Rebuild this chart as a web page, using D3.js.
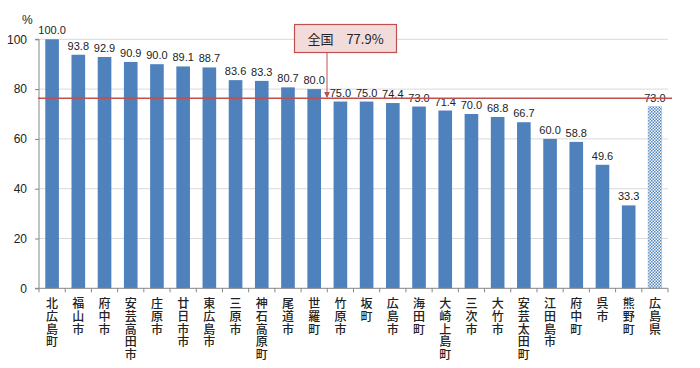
<!DOCTYPE html>
<html><head><meta charset="utf-8">
<script src="https://cdn.jsdelivr.net/npm/d3@7"></script>
<style>body{margin:0;background:#fff}svg{display:block}</style>
</head><body><svg id="c" width="700" height="368"></svg>
<script>
const categories = ["北広島町","福山市","府中市","安芸高田市","庄原市","廿日市市","東広島市","三原市","神石高原町","尾道市","世羅町","竹原市","坂町","広島市","海田町","大崎上島町","三次市","大竹市","安芸太田町","江田島市","府中町","呉市","熊野町","広島県"];
const values = [100.0,93.8,92.9,90.9,90.0,89.1,88.7,83.6,83.3,80.7,80.0,75.0,75.0,74.4,73.0,71.4,70.0,68.8,66.7,60.0,58.8,49.6,33.3,73.0];
const yTicks = [0,20,40,60,80,100];
const nationalLabel = "全国　77.9%";
const nationalLineLevel = 76.3;
const prefName = "広島県";

const svg = d3.select("#c");
const m = {l:39, r:668, t:39.3, b:288.3};
const x = d3.scaleBand().domain(categories).range([m.l, m.r]).paddingInner(0.48).paddingOuter(0.24);
const y = d3.scaleLinear().domain([0,100]).range([m.b, m.t]);

const defs = svg.append("defs");
const pat = defs.append("pattern").attr("id","chk").attr("width",3).attr("height",3).attr("patternUnits","userSpaceOnUse");
pat.append("rect").attr("width",3).attr("height",3).attr("fill","#fff");
pat.append("rect").attr("width",1.5).attr("height",1.5).attr("fill","#4f81bd");
pat.append("rect").attr("x",1.5).attr("y",1.5).attr("width",1.5).attr("height",1.5).attr("fill","#4f81bd");

// gridlines
svg.append("g").selectAll("line").data(yTicks.filter(d=>d>0)).join("line")
  .attr("x1",m.l).attr("x2",m.r).attr("y1",d=>y(d)).attr("y2",d=>y(d))
  .attr("stroke","#d9d9d9").attr("stroke-width",1);

// y axis
const ya = svg.append("g").attr("transform",`translate(${m.l},0)`)
  .call(d3.axisLeft(y).tickValues(yTicks).tickSize(4).tickPadding(8));
ya.selectAll("path,line").attr("stroke","#868686");
ya.selectAll("text").attr("font-family","Liberation Sans, Arial, sans-serif").attr("font-size",12).attr("fill","#222");
ya.select(".domain").attr("d",`M-4,${m.t}H0V${m.b}H-4`);

svg.append("text").attr("x",22).attr("y",24).attr("font-family","Liberation Sans, Arial, sans-serif")
  .attr("font-size",12).attr("fill","#222").text("%");

// bars
svg.append("g").selectAll("rect").data(categories).join("rect")
  .attr("x",d=>x(d)).attr("width",x.bandwidth())
  .attr("y",(d,i)=>y(values[i])).attr("height",(d,i)=>y(0)-y(values[i]))
  .attr("fill",d=>d===prefName?"url(#chk)":"#4f81bd")
  .attr("stroke",d=>d===prefName?"#9bbbe0":"none").attr("stroke-width",0.5);

// x axis
const step = x.step();
const xa = svg.append("g");
xa.append("line").attr("x1",m.l).attr("x2",m.r).attr("y1",m.b).attr("y2",m.b).attr("stroke","#868686");
xa.selectAll("line.t").data(d3.range(categories.length+1)).join("line").attr("class","t")
  .attr("x1",i=>m.l+i*step).attr("x2",i=>m.l+i*step).attr("y1",m.b).attr("y2",m.b+4).attr("stroke","#868686");

// value labels
svg.append("g").selectAll("text").data(categories).join("text")
  .attr("x",d=>x(d)+x.bandwidth()/2).attr("y",(d,i)=>y(values[i])-5)
  .attr("text-anchor","middle").attr("font-family","Liberation Sans, Arial, sans-serif")
  .attr("font-size",11).attr("fill","#222").text((d,i)=>values[i].toFixed(1));

// category labels, vertical (one character per line)
const cl = svg.append("g").selectAll("g").data(categories).join("g")
  .attr("transform",d=>`translate(${x(d)+x.bandwidth()/2},0)`);
cl.each(function(d){
  const g = d3.select(this);
  Array.from(d).forEach((ch,k)=>{
    g.append("text").attr("x",0).attr("y",308+k*12.8).attr("text-anchor","middle")
      .attr("font-family","Noto Sans CJK JP, sans-serif").attr("font-size",12).attr("font-weight",500)
      .attr("fill","#222").text(ch);
  });
});

// national line
svg.append("line").attr("x1",m.l-1).attr("x2",672).attr("y1",y(nationalLineLevel)).attr("y2",y(nationalLineLevel))
  .attr("stroke","#c0504d").attr("stroke-width",1.5);

// callout
defs.append("marker").attr("id","arr").attr("viewBox","0 0 10 10").attr("refX",9).attr("refY",5)
  .attr("markerWidth",6).attr("markerHeight",6).attr("orient","auto")
  .append("path").attr("d","M0,0L10,5L0,10z").attr("fill","#c0504d");
const bx = 294.5, by = 24.5, bw = 102, bh = 28;
svg.append("line").attr("x1",327).attr("x2",327).attr("y1",by+bh).attr("y2",y(nationalLineLevel)-1)
  .attr("stroke","#c0504d").attr("stroke-width",1).attr("marker-end","url(#arr)");
svg.append("rect").attr("x",bx).attr("y",by).attr("width",bw).attr("height",bh)
  .attr("fill","#f2dcdb").attr("stroke","#c0504d").attr("stroke-width",1.2);
svg.append("text").attr("x",bx+bw/2).attr("y",by+bh/2+5).attr("text-anchor","middle")
  .attr("font-family","Noto Sans CJK JP, sans-serif").attr("font-size",13).attr("fill","#222")
  .text(nationalLabel);
</script></body></html>
